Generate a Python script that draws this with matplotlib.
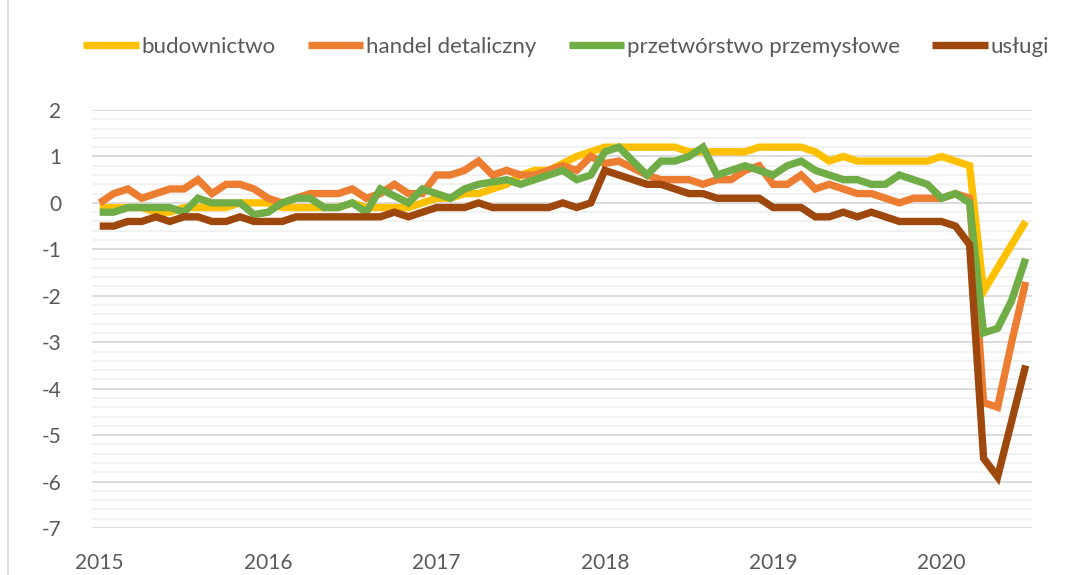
import matplotlib
matplotlib.use("Agg")
import matplotlib.pyplot as plt
import numpy as np
from matplotlib.ticker import MultipleLocator

plt.rcParams['font.family'] = ['Lato', 'DejaVu Sans']
plt.rcParams['axes.unicode_minus'] = False

years = ["2015", "2016", "2017", "2018", "2019", "2020"]
series_names = ["budownictwo", "handel detaliczny", "przetwórstwo przemysłowe", "usługi"]

budownictwo = [-0.1, -0.1, -0.1, -0.1, -0.2, -0.2, -0.1, -0.1, -0.1, -0.1, 0.0, 0.0,
               0.0, -0.1, -0.1, -0.1, -0.1, -0.1, 0.0, -0.1, -0.1, -0.1, -0.1, 0.0,
               0.1, 0.1, 0.2, 0.2, 0.3, 0.4, 0.6, 0.7, 0.7, 0.85, 1.0, 1.1,
               1.2, 1.2, 1.2, 1.2, 1.2, 1.2, 1.1, 1.1, 1.1, 1.1, 1.1, 1.2,
               1.2, 1.2, 1.2, 1.1, 0.9, 1.0, 0.9, 0.9, 0.9, 0.9, 0.9, 0.9,
               1.0, 0.9, 0.8, -1.9, -1.4, -0.9, -0.4]
handel = [0.0, 0.2, 0.3, 0.1, 0.2, 0.3, 0.3, 0.5, 0.2, 0.4, 0.4, 0.3,
          0.1, 0.0, 0.1, 0.2, 0.2, 0.2, 0.3, 0.1, 0.2, 0.4, 0.2, 0.2,
          0.6, 0.6, 0.7, 0.9, 0.6, 0.7, 0.6, 0.6, 0.7, 0.8, 0.7, 1.0,
          0.85, 0.9, 0.75, 0.6, 0.5, 0.5, 0.5, 0.4, 0.5, 0.5, 0.7, 0.8,
          0.4, 0.4, 0.6, 0.3, 0.4, 0.3, 0.2, 0.2, 0.1, 0.0, 0.1, 0.1,
          0.1, 0.2, 0.1, -4.3, -4.4, -3.0, -1.7]
przetworstwo = [-0.2, -0.2, -0.1, -0.1, -0.1, -0.1, -0.2, 0.1, 0.0, 0.0, 0.0, -0.25,
                -0.2, 0.0, 0.1, 0.1, -0.1, -0.1, 0.0, -0.2, 0.3, 0.15, 0.0, 0.3,
                0.2, 0.1, 0.3, 0.4, 0.45, 0.5, 0.4, 0.5, 0.6, 0.7, 0.5, 0.6,
                1.1, 1.2, 0.9, 0.6, 0.9, 0.9, 1.0, 1.2, 0.6, 0.7, 0.8, 0.7,
                0.6, 0.8, 0.9, 0.7, 0.6, 0.5, 0.5, 0.4, 0.4, 0.6, 0.5, 0.4,
                0.1, 0.2, 0.0, -2.8, -2.7, -2.1, -1.2]
uslugi = [-0.5, -0.5, -0.4, -0.4, -0.3, -0.4, -0.3, -0.3, -0.4, -0.4, -0.3, -0.4,
          -0.4, -0.4, -0.3, -0.3, -0.3, -0.3, -0.3, -0.3, -0.3, -0.2, -0.3, -0.2,
          -0.1, -0.1, -0.1, 0.0, -0.1, -0.1, -0.1, -0.1, -0.1, 0.0, -0.1, 0.0,
          0.7, 0.6, 0.5, 0.4, 0.4, 0.3, 0.2, 0.2, 0.1, 0.1, 0.1, 0.1,
          -0.1, -0.1, -0.1, -0.3, -0.3, -0.2, -0.3, -0.2, -0.3, -0.4, -0.4, -0.4,
          -0.4, -0.5, -0.9, -5.5, -5.9, -4.7, -3.5]

colors = ["#FFC000", "#ED7D31", "#70AD47", "#9E480E"]
data = [budownictwo, handel, przetworstwo, uslugi]

W, H = 1065, 575
fig = plt.figure(figsize=(W / 100, H / 100), dpi=100)
ax = fig.add_axes([92 / W, 1 - 528 / H, (1032 - 92) / W, (528 - 110) / H])

x = np.arange(len(budownictwo))
for name, vals, c in zip(series_names, data, colors):
    ax.plot(x, vals, color=c, lw=5.3, label=name, solid_joinstyle='miter',
            solid_capstyle='butt', zorder=3)

ax.set_ylim(-7, 2)
ax.set_xlim(-0.55, 66.45)
ax.yaxis.set_major_locator(MultipleLocator(1))
ax.yaxis.set_minor_locator(MultipleLocator(0.2))
ax.grid(which='major', axis='y', color='#D9D9D9', lw=1.3, zorder=1)
ax.grid(which='minor', axis='y', color='#F0F0F0', lw=1.3, zorder=0)
ax.set_xticks(np.arange(0, 61, 12))
ax.set_xticklabels(years)
for s in ax.spines.values():
    s.set_visible(False)
ax.tick_params(axis='both', which='both', length=0, labelsize=15, colors='#595959')
ax.tick_params(axis='y', pad=22)
ax.tick_params(axis='x', pad=18)

leg = fig.legend(loc='center', ncol=4, bbox_to_anchor=(566 / W, 1 - 47 / H),
                 frameon=False, fontsize=16, handlelength=2.5, handletextpad=0.12,
                 columnspacing=1.45, labelcolor='#595959')

# chart border
fig.add_artist(plt.Line2D([8 / W, 8 / W], [0, 1], color='#D9D9D9', lw=1.2))

fig.savefig("out.png", dpi=100)
